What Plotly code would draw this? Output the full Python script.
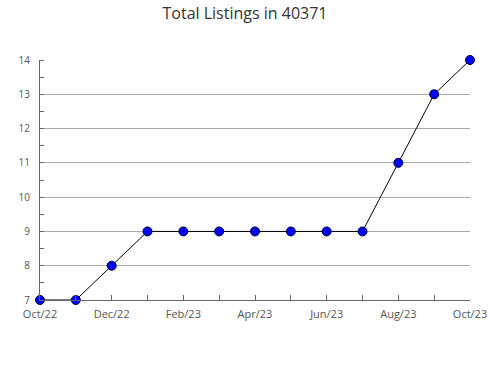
import plotly.graph_objects as go

months = ["Oct/22", "Nov/22", "Dec/22", "Jan/23", "Feb/23", "Mar/23", "Apr/23",
          "May/23", "Jun/23", "Jul/23", "Aug/23", "Sep/23", "Oct/23"]
listings = [7, 7, 8, 9, 9, 9, 9, 9, 9, 9, 11, 13, 14]
y_ticks = [7, 8, 9, 10, 11, 12, 13, 14]

x_idx = list(range(len(months)))
tick_text = [m if i % 2 == 0 else "" for i, m in enumerate(months)]

fig = go.Figure()
fig.add_trace(go.Scatter(
    x=x_idx, y=listings, mode="lines+markers",
    line=dict(color="black", width=1),
    marker=dict(color="#0000ff", size=9, line=dict(color="#000033", width=1)),
    cliponaxis=False, showlegend=False,
))

fig.update_layout(
    width=490, height=380,
    margin=dict(l=40, r=20, t=60, b=80),
    paper_bgcolor="white", plot_bgcolor="white",
    font=dict(family="Open Sans", color="#555555", size=11),
    title=dict(text="Total Listings in 40371", x=0.5, xanchor="center",
               y=0.98, yanchor="top",
               font=dict(family="Open Sans", size=16, color="#333333")),
)
fig.update_xaxes(
    range=[0, len(months) - 1], tickmode="array", tickvals=x_idx, ticktext=tick_text,
    showgrid=False, zeroline=False, showline=True, linecolor="#666666", linewidth=1,
    ticks="inside", ticklen=5, tickcolor="#666666", tickfont=dict(size=11, color="#555555"),
    automargin=False, ticklabelstandoff=4,
)
fig.update_yaxes(
    range=[7, 14], tickmode="array", tickvals=y_ticks,
    showgrid=True, gridcolor="#aaaaaa", gridwidth=1, zeroline=False,
    showline=True, linecolor="#666666", linewidth=1,
    ticks="", tickfont=dict(size=10, color="#555555"),
    automargin=False, ticklabelstandoff=7,
    minor=dict(ticks="inside", dtick=0.5, tick0=7.5, ticklen=4, tickcolor="#666666", showgrid=False),
)

fig.write_html("out.html")
